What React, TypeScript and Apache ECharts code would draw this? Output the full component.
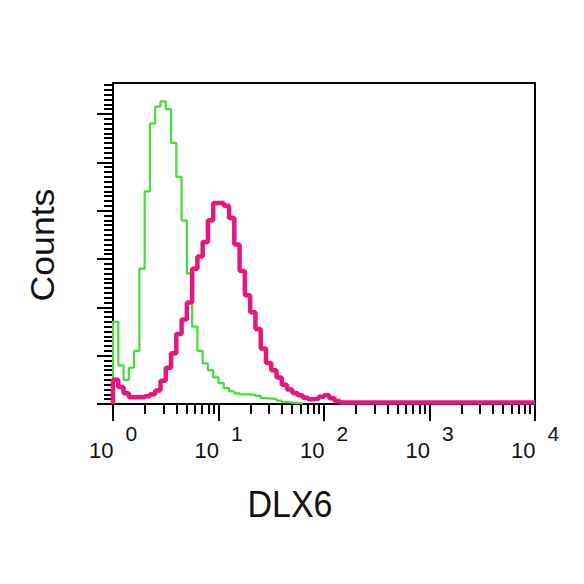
import React, { useEffect, useRef } from "react";
import * as echarts from "echarts";

// Histogram bins: each bin spans BIN_DECADES on the log10 intensity axis, starting at 10^0
const BIN_DECADES = 0.05;

// Isotype control (green) counts per bin
const controlCounts = [
  17, 8, 5, 7.5, 11, 28, 44, 58, 61.5, 62.6, 61, 54, 47, 38, 27, 16, 11, 8.4, 7, 5.5,
  4.3, 3.3, 2.6, 2.2, 2.0, 2.0, 1.9, 1.7, 1.2, 1.1, 1.0, 0.7, 0.4, 0.3, 0.2, 0.1, 0,
];

// DLX6 stained sample (magenta) counts per bin
const dlx6Counts = [
  5, 3.5, 2.2, 1.4, 1.4, 1.4, 1.6, 2.0, 2.8, 4.8, 7.5, 10.5, 14.5, 17.5, 21, 28, 30.5, 33.5, 38, 41.6,
  41.6, 41, 38.5, 33, 27.5, 22.5, 19, 15.5, 11.5, 8.5, 7, 5.5, 4, 3, 2.3, 1.8, 1.3, 1.0, 1.1, 1.5,
  1.8, 1.2, 0.6, 0.3,
];
const dlx6Tail = 0.3;

const X_MIN = 1;
const X_MAX = 10000;
const Y_MAX = 66.4;
const yMajorTicks = [0, 10, 20, 30, 40, 50, 60];
const xMinorTicks = [
  2, 3, 4, 5, 6, 7, 8, 9,
  20, 30, 40, 50, 60, 70, 80, 90,
  200, 300, 400, 500, 600, 700, 800, 900,
  2000, 3000, 4000, 5000, 6000, 7000, 8000, 9000,
];

const FONT = "'Liberation Sans', Arial, Helvetica, sans-serif";
const GREEN = "#44dd3c";
const MAGENTA = "#e8157f";

function binsToSeries(counts: number[]) {
  const pts: number[][] = [[X_MIN, 0]];
  counts.forEach((v, i) => pts.push([Math.pow(10, i * BIN_DECADES), v]));
  return pts;
}

export default function App() {
  const ref = useRef<HTMLDivElement>(null);
  useEffect(() => {
    if (!ref.current) return;
    const chart = echarts.init(ref.current, undefined, { renderer: "svg" });
    const dlx6Data = binsToSeries(dlx6Counts);
    dlx6Data.push([X_MAX, dlx6Tail]);
    const tickStyle = { color: "#000", width: 2 };
    chart.setOption({
      animation: false,
      backgroundColor: "#ffffff",
      grid: {
        left: 113,
        right: 49,
        top: 83,
        bottom: 180,
        show: true,
        borderColor: "#000",
        borderWidth: 2,
        backgroundColor: "transparent",
      },
      xAxis: [
        {
          type: "log",
          logBase: 10,
          min: X_MIN,
          max: X_MAX,
          position: "bottom",
          axisLine: { show: true, lineStyle: { color: "#000", width: 2 } },
          axisTick: { show: true, length: 17, lineStyle: tickStyle },
          axisLabel: {
            show: true,
            margin: 19,
            fontSize: 22,
            fontFamily: FONT,
            color: "#111",
            formatter: (v: number) => `{b|10}{e|${Math.round(Math.log10(v))}}`,
            rich: {
              b: { fontSize: 22, fontFamily: FONT, color: "#111", padding: [16, 0, 0, 0], verticalAlign: "bottom" },
              e: { fontSize: 21, fontFamily: FONT, color: "#111", padding: [0, 0, 0, 12], verticalAlign: "top" },
            },
          },
          splitLine: { show: false },
        },
        {
          type: "log",
          logBase: 10,
          min: X_MIN,
          max: X_MAX,
          position: "bottom",
          axisLine: { show: false },
          axisTick: { show: true, length: 10, customValues: xMinorTicks, lineStyle: tickStyle },
          axisLabel: { show: false },
          splitLine: { show: false },
        },
      ],
      yAxis: [
        {
          type: "value",
          min: 0,
          max: Y_MAX,
          interval: 10,
          position: "left",
          axisLine: { show: true, lineStyle: { color: "#000", width: 2 } },
          axisTick: { show: true, length: 16, customValues: yMajorTicks, lineStyle: tickStyle },
          minorTick: { show: true, splitNumber: 10, length: 9, lineStyle: tickStyle },
          axisLabel: { show: false },
          splitLine: { show: false },
        },
      ],
      graphic: [
        {
          type: "text",
          x: 42,
          y: 245,
          rotation: Math.PI / 2,
          scaleX: 1.08,
          style: {
            text: "Counts",
            fontSize: 33,
            fontFamily: FONT,
            fill: "#111",
            align: "center",
            verticalAlign: "middle",
          },
        },
        {
          type: "text",
          x: 290,
          y: 504,
          scaleY: 1.1,
          style: {
            text: "DLX6",
            fontSize: 34,
            fontFamily: FONT,
            fill: "#111",
            align: "center",
            verticalAlign: "middle",
          },
        },
      ],
      series: [
        {
          name: "Control",
          type: "line",
          xAxisIndex: 0,
          yAxisIndex: 0,
          step: "end",
          symbol: "none",
          data: binsToSeries(controlCounts),
          lineStyle: { color: GREEN, width: 2.2 },
          z: 2,
        },
        {
          name: "DLX6",
          type: "line",
          xAxisIndex: 0,
          yAxisIndex: 0,
          step: "end",
          symbol: "none",
          data: dlx6Data,
          lineStyle: { color: MAGENTA, width: 4.5 },
          z: 3,
        },
      ],
    });
    return () => chart.dispose();
  }, []);
  return (
    <div
      ref={ref}
      style={{ position: "fixed", left: 0, top: 0, width: 584, height: 584, background: "#fff" }}
    />
  );
}
